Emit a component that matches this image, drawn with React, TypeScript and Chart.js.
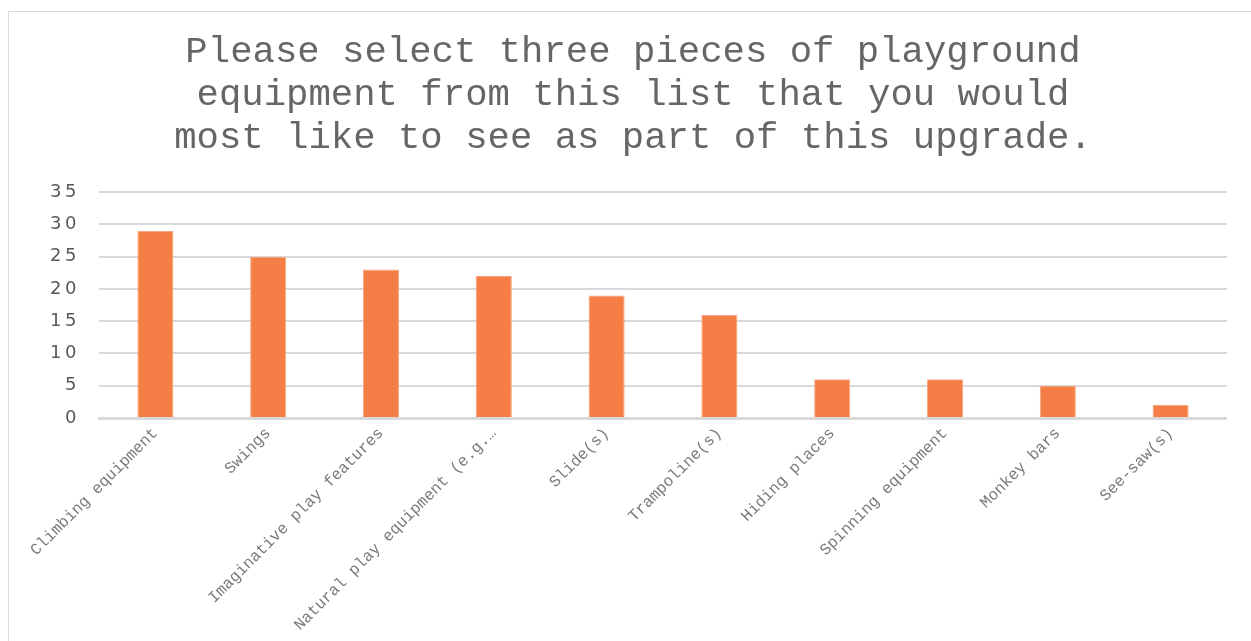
import React, { useEffect, useRef } from "react";
import { Chart, registerables } from "chart.js";

Chart.register(...registerables);

const titleLines = [
  "Please select three pieces of playground",
  "equipment from this list that you would",
  "most like to see as part of this upgrade.",
];

const categories = [
  "Climbing equipment",
  "Swings",
  "Imaginative play features",
  "Natural play equipment (e.g.…",
  "Slide(s)",
  "Trampoline(s)",
  "Hiding places",
  "Spinning equipment",
  "Monkey bars",
  "See-saw(s)",
];

const counts = [29, 25, 23, 22, 19, 16, 6, 6, 5, 2];

const yTicks = [0, 5, 10, 15, 20, 25, 30, 35];

const MONO = "'Courier New', 'Liberation Mono', monospace";

export default function App() {
  const ref = useRef<HTMLCanvasElement | null>(null);

  useEffect(() => {
    if (!ref.current) return;
    const chart = new Chart(ref.current, {
      type: "bar",
      data: {
        labels: categories,
        datasets: [
          {
            data: counts,
            backgroundColor: "#F47E45",
            borderColor: "#F7A57F",
            borderWidth: 1,
            barPercentage: 0.32,
            categoryPercentage: 1,
          },
        ],
      },
      options: {
        responsive: false,
        animation: false,
        devicePixelRatio: 1,
        layout: { padding: { left: 30, right: 0, top: 0, bottom: 0 } },
        plugins: {
          legend: { display: false },
          tooltip: { enabled: false },
          title: {
            display: true,
            text: titleLines,
            color: "#666666",
            font: { family: MONO, size: 37.3, weight: "normal", lineHeight: 1.15 },
            padding: { top: 18.5, bottom: 33 },
          },
        },
        scales: {
          x: {
            grid: { display: false, drawTicks: false },
            border: { display: true, color: "#d9d9d9", width: 3 },
            ticks: {
              color: "#7a7a7a",
              font: { family: MONO, size: 16 },
              maxRotation: 45,
              minRotation: 45,
              autoSkip: false,
              padding: 6,
            },
            afterFit: (s: any) => {
              s.height = 629 - 406;
            },
          },
          y: {
            min: 0,
            max: 35,
            afterBuildTicks: (s: any) => {
              s.ticks = yTicks.map((v) => ({ value: v }));
            },
            grid: {
              color: "#d9d9d9",
              lineWidth: 2,
              drawTicks: false,
            },
            border: { display: false },
            ticks: {
              color: "#595959",
              font: { family: "'DejaVu Sans', sans-serif", size: 18 },
              padding: 19,
            },
            afterFit: (s: any) => {
              s.width = 60;
              if (!s._lsPatched) {
                const orig = s.drawLabels.bind(s);
                s.drawLabels = (area: any) => {
                  const ctx = s.ctx as any;
                  ctx.save();
                  ctx.letterSpacing = "3.5px";
                  orig(area);
                  ctx.restore();
                };
                s._lsPatched = true;
              }
            },
          },
        },
      },
    });
    return () => chart.destroy();
  }, []);

  return (
    <div style={{ position: "fixed", inset: 0, overflow: "hidden", background: "#fff" }}>
      <div
        style={{
          position: "absolute",
          left: 8,
          top: 11,
          width: 1300,
          height: 700,
          border: "1px solid #d9d9d9",
        }}
      >
        <canvas
          ref={ref}
          width={1218}
          height={629}
          style={{ position: "absolute", left: 0, top: 0, width: 1218, height: 629 }}
        />
      </div>
    </div>
  );
}
